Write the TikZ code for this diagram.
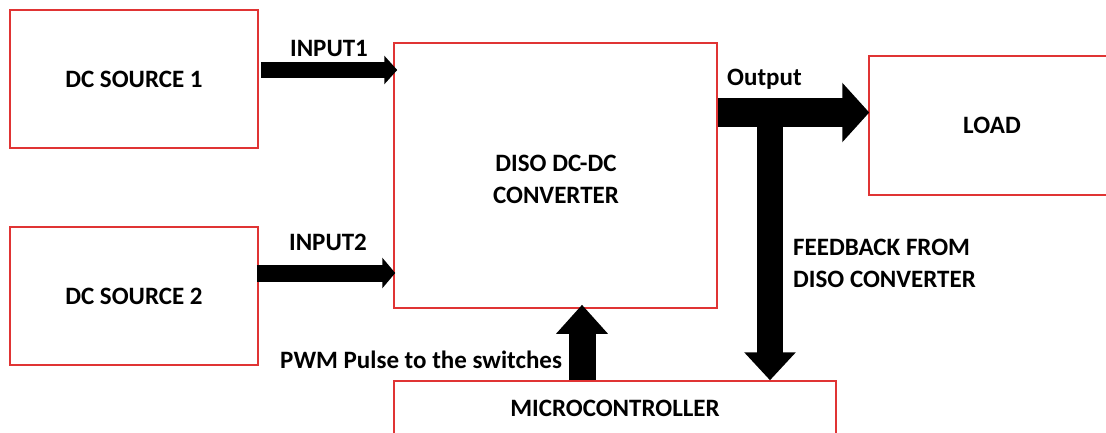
\documentclass[tikz,border=0pt]{standalone}
\usepackage{fontspec}
\setmainfont{Carlito}
\usetikzlibrary{arrows.meta,calc}
\definecolor{boxred}{RGB}{224,52,52}
\begin{document}
\begin{tikzpicture}[x=1pt,y=-1pt,
  txt/.style={font=\fontsize{25}{32}\selectfont\bfseries, inner sep=0pt},
  block/.style={txt, draw=boxred, line width=1.5pt, align=center},
  fatarrow/.style n args={3}{line width=#1, -{Triangle[length=#2, width=#3]}}
]
\useasboundingbox (0,0) rectangle (1106,432);
\clip (0,0) rectangle (1106,432);
\fill[white] (0,0) rectangle (1106,432);

% blocks
\node[block, minimum width=248pt, minimum height=138pt] (dc1) at (134,79) {DC SOURCE 1};
\node[block, minimum width=248pt, minimum height=138pt] (dc2) at (134,296) {DC SOURCE 2};
\node[block, minimum width=323pt, minimum height=265pt] (diso) at (555.5,175.5) {};
\node[txt, align=center] (disotxt) at (556,179) {DISO DC-DC\\CONVERTER};
\node[block, minimum width=246pt, minimum height=139pt] (load) at (992,125.5) {LOAD};
\node[block, minimum width=442pt, minimum height=54pt] (micro) at (615,408) {MICROCONTROLLER};

% power paths
\draw[fatarrow={16pt}{13pt}{28pt}] ($(dc1.east |- 0,70)+(2,0)$) -- ($(diso.west |- 0,70)+(4,0)$);
\draw[fatarrow={17pt}{13pt}{30pt}] ($(dc2.east |- 0,273)+(-2,0)$) -- ($(diso.west |- 0,273)+(2,0)$);
\draw[fatarrow={29pt}{27pt}{58pt}] (diso.east |- 0,112.5) -- ($(load.west |- 0,112.5)+(1,0)$);

% feedback and control paths
\coordinate (tap) at (770,112);
\draw[fatarrow={26pt}{28pt}{50pt}] (tap) -- (micro.north -| tap);
\draw[fatarrow={27pt}{29pt}{50pt}] (micro.north -| 582,0) -- ($(diso.south -| 582,0)+(0,-4)$);

% labels
\node[txt, anchor=base] (in1) at (329,56) {INPUT1};
\node[txt, anchor=base] (in2) at (328,250) {INPUT2};
\node[txt, anchor=base west] (out) at (727,85) {Output};
\node[txt, anchor=base west, align=left] (fb) at (793,287) {FEEDBACK FROM\\DISO CONVERTER};
\node[txt, anchor=base west] (pwm) at (280,368) {PWM Pulse to the switches};
\end{tikzpicture}
\end{document}
